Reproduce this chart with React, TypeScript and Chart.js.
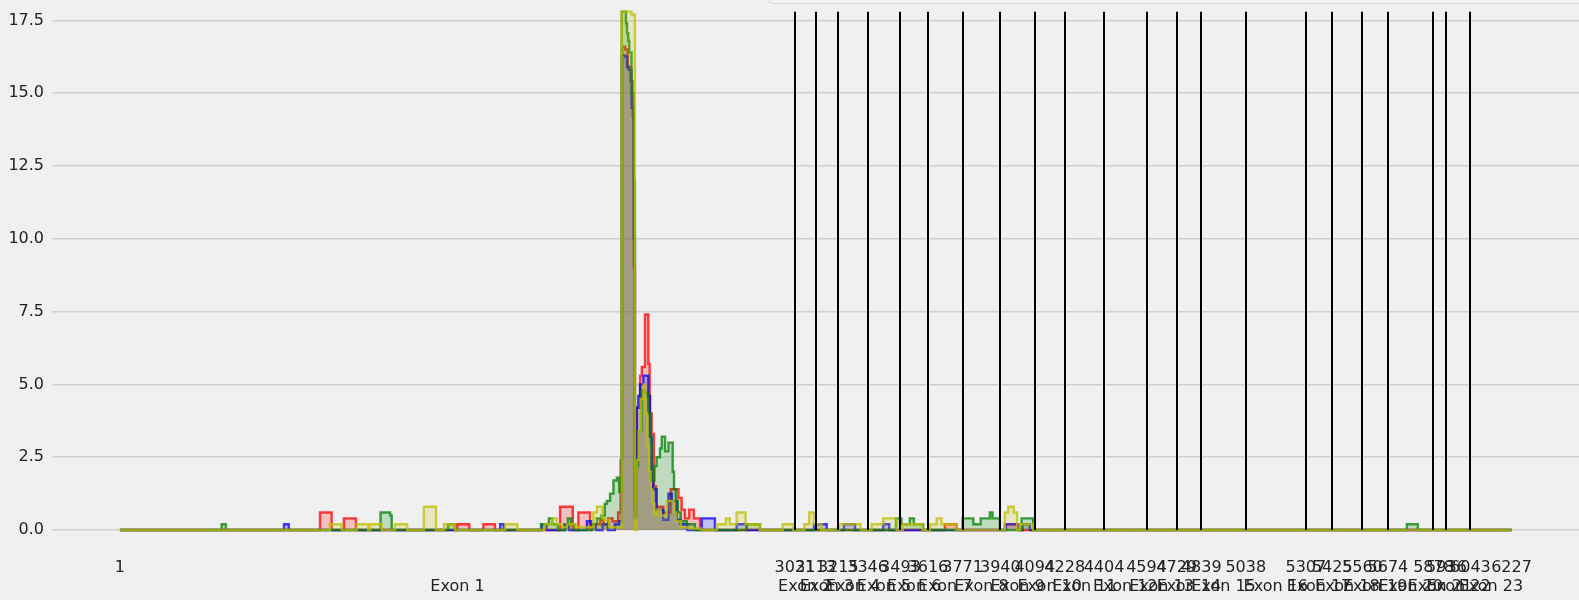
import React, { useEffect, useRef } from 'react';
import { Chart, registerables } from 'chart.js';

Chart.register(...registerables);

// Exon boundaries (genomic positions) and exon names
const exonBoundaries = [1, 3021, 3113, 3215, 3346, 3493, 3616, 3771, 3940, 4094, 4228, 4404, 4594, 4729, 4839, 5038, 5307, 5425, 5560, 5674, 5878, 5936, 6043, 6227];
const exonNames = ['Exon 1', 'Exon 2', 'Exon 3', 'Exon 4', 'Exon 5', 'Exon 6', 'Exon 7', 'Exon 8', 'Exon 9', 'Exon 10', 'Exon 11', 'Exon 12', 'Exon 13', 'Exon 14', 'Exon 15', 'Exon 16', 'Exon 17', 'Exon 18', 'Exon 19', 'Exon 20', 'Exon 21', 'Exon 22', 'Exon 23'];
const yTickValues = [0, 2.5, 5, 7.5, 10, 12.5, 15, 17.5];

// Step data: [position where value starts, value]
const redSteps: [number, number][] = [
  [1, 0], [896, 0.6], [948, 0], [1003, 0.4], [1057, 0], [1510, 0.2], [1564, 0], [1627, 0.2], [1679, 0],
  [1970, 0.8], [2027, 0], [2052, 0.6], [2104, 0], [2110, 0.2], [2150, 0.35], [2165, 0.2], [2185, 0.4], [2205, 0.3],
  [2230, 0.6], [2241, 2.4], [2248, 16.6], [2262, 16.5], [2273, 15.9], [2285, 15.4], [2295, 14.2], [2300, 9.0],
  [2305, 0.5], [2313, 4.2], [2328, 5.3], [2336, 5.6], [2350, 7.4], [2365, 5.7], [2371, 4.0], [2380, 3.3],
  [2390, 1.5], [2400, 0.8], [2432, 0.6], [2465, 1.4], [2500, 1.1], [2514, 0.7], [2529, 0.4], [2548, 0.7],
  [2569, 0.4], [2596, 0], [3692, 0.2], [3744, 0], [3960, 0.2], [4020, 0], [6227, 0],
];
const blueSteps: [number, number][] = [
  [1, 0], [735, 0.2], [756, 0], [1702, 0.2], [1719, 0], [1888, 0.2], [1910, 0], [1990, 0.2], [2010, 0],
  [2090, 0.3], [2110, 0.2], [2130, 0], [2160, 0.2], [2185, 0], [2215, 0.2], [2235, 0.3], [2246, 16.3],
  [2262, 16.25], [2270, 15.9], [2277, 15.8], [2290, 14.5], [2300, 10], [2305, 0.4], [2313, 4.2], [2320, 4.6],
  [2328, 5.0], [2343, 5.3], [2365, 4.6], [2373, 3.2], [2380, 1.7], [2387, 1.4], [2402, 0.7], [2432, 0.35],
  [2455, 1.25], [2470, 1.0], [2492, 0.35], [2507, 0.2], [2540, 0], [2604, 0.4], [2663, 0], [2760, 0.2],
  [2805, 0], [3106, 0.2], [3163, 0], [3240, 0.2], [3290, 0], [3416, 0.2], [3443, 0], [3965, 0.2], [4020, 0],
  [4040, 0.2], [4072, 0], [6227, 0],
];
const greenSteps: [number, number][] = [
  [1, 0], [456, 0.2], [475, 0], [1167, 0.6], [1210, 0.5], [1217, 0], [1469, 0.2], [1500, 0],
  [1885, 0.2], [1920, 0.4], [1935, 0.2], [1960, 0], [1995, 0.2], [2005, 0.4], [2020, 0.2], [2035, 0],
  [2115, 0.2], [2135, 0.4], [2155, 0.5], [2170, 0.9], [2180, 1.0], [2194, 1.25], [2209, 1.7], [2224, 1.8],
  [2235, 1.3], [2246, 17.8], [2265, 17.4], [2270, 17.06], [2275, 16.8], [2280, 16.4], [2290, 15.0], [2300, 12],
  [2305, 1.0], [2310, 2.2], [2320, 3.4], [2335, 4.8], [2350, 4.7], [2365, 4.0], [2373, 3.2], [2380, 1.7],
  [2392, 2.2], [2402, 2.5], [2417, 2.8], [2425, 3.2], [2440, 2.7], [2455, 3.0], [2474, 2.0], [2480, 1.4],
  [2488, 1.0], [2497, 0.6], [2510, 0.3], [2537, 0.2], [2574, 0], [2805, 0.2], [2865, 0], [3473, 0.4],
  [3498, 0.2], [3535, 0.4], [3553, 0.2], [3595, 0], [3771, 0.4], [3819, 0.2], [3852, 0.4], [3893, 0.6],
  [3905, 0.4], [3938, 0], [4035, 0.4], [4087, 0], [5759, 0.2], [5808, 0], [6227, 0],
];
const oliveSteps: [number, number][] = [
  [1, 0], [941, 0.2], [993, 0], [1060, 0.2], [1112, 0], [1120, 0.2], [1172, 0], [1231, 0.2], [1286, 0],
  [1361, 0.8], [1415, 0], [1451, 0.2], [1500, 0], [1724, 0.2], [1779, 0],
  [1900, 0.2], [1935, 0.4], [1955, 0.2], [1980, 0.1], [2000, 0.2], [2040, 0.1], [2119, 0.6], [2135, 0.8],
  [2160, 0.4], [2168, 0.35], [2190, 0.1], [2246, 17.8], [2290, 17.7], [2305, 0], [2313, 2.4], [2322, 3.4],
  [2331, 4.5], [2343, 5.0], [2352, 4.0], [2360, 2.9], [2368, 2.0], [2375, 1.4], [2383, 0.9], [2392, 0.5],
  [2405, 0.7], [2420, 0.5], [2447, 1.0], [2480, 0.6], [2490, 0.3], [2510, 0.1], [2545, 0.05], [2600, 0],
  [2671, 0.2], [2712, 0.4], [2730, 0.2], [2760, 0.6], [2800, 0.2], [2864, 0], [2966, 0.2], [3014, 0],
  [3063, 0.2], [3085, 0.6], [3106, 0.2], [3140, 0], [3219, 0.2], [3315, 0], [3364, 0.2], [3416, 0.4],
  [3476, 0], [3503, 0.2], [3592, 0], [3625, 0.2], [3655, 0.4], [3677, 0.2], [3744, 0], [3960, 0.6],
  [3975, 0.8], [4000, 0.6], [4015, 0], [4027, 0.2], [4087, 0], [6227, 0],
];

const seriesList = [
  { name: 'red', rgb: '255,0,0', steps: redSteps, order: 4 },
  { name: 'blue', rgb: '0,0,255', steps: blueSteps, order: 3 },
  { name: 'green', rgb: '0,128,0', steps: greenSteps, order: 2 },
  { name: 'olive', rgb: '191,191,0', steps: oliveSteps, order: 1 },
];

const X_MIN = -303;
const X_MAX = 6529;
const Y_MIN = -0.755;
const Y_MAX = 18.2;

function toPoints(steps: [number, number][]) {
  const pts: { x: number; y: number }[] = [];
  let prev = 0;
  for (const [x, y] of steps) {
    pts.push({ x, y: prev });
    pts.push({ x, y });
    prev = y;
  }
  return pts;
}

export default function App() {
  const ref = useRef<HTMLCanvasElement | null>(null);

  useEffect(() => {
    document.body.style.margin = '0';
    document.body.style.background = '#f0f0f0';
    const canvas = ref.current;
    if (!canvas) return;

    const labelMap = new Map<number, string[]>();
    exonBoundaries.forEach((b) => labelMap.set(b, [String(b)]));
    const mids: number[] = [];
    exonNames.forEach((n, i) => {
      const m = (exonBoundaries[i] + exonBoundaries[i + 1]) / 2;
      mids.push(m);
      labelMap.set(m, ['', n]);
    });
    const tickVals = [...exonBoundaries, ...mids].sort((a, b) => a - b);

    const vTop = Math.max(...seriesList.flatMap((s) => s.steps.map((p) => p[1])));

    const font = { family: '"DejaVu Sans", sans-serif', size: 16 };

    const bgPlugin = {
      id: 'bg',
      beforeDraw(chart: any) {
        const { ctx, width, height } = chart;
        ctx.save();
        ctx.fillStyle = '#f0f0f0';
        ctx.fillRect(0, 0, width, height);
        ctx.restore();
      },
    };

    const vlinePlugin = {
      id: 'vlines',
      afterDatasetsDraw(chart: any) {
        const { ctx } = chart;
        const xs = chart.scales.x;
        const ys = chart.scales.y;
        ctx.save();
        ctx.strokeStyle = '#000';
        ctx.lineWidth = 2;
        for (const b of exonBoundaries.slice(1, -1)) {
          const px = Math.round(xs.getPixelForValue(b));
          ctx.beginPath();
          ctx.moveTo(px, ys.getPixelForValue(0));
          ctx.lineTo(px, ys.getPixelForValue(vTop));
          ctx.stroke();
        }
        ctx.restore();
      },
    };

    const legendFramePlugin = {
      id: 'legendFrame',
      afterDraw(chart: any) {
        const { ctx, width } = chart;
        const left = width * 0.486;
        ctx.save();
        ctx.fillStyle = '#f0f0f0';
        ctx.strokeStyle = '#d9d9d9';
        ctx.lineWidth = 1;
        ctx.beginPath();
        ctx.roundRect(left + 0.5, -20, width, 23.5, 4);
        ctx.fill();
        ctx.stroke();
        ctx.restore();
      },
    };

    const chart = new Chart(canvas, {
      type: 'line',
      data: {
        datasets: seriesList.map((s) => ({
          label: s.name,
          data: toPoints(s.steps),
          borderColor: `rgba(${s.rgb},0.75)`,
          backgroundColor: `rgba(${s.rgb},0.2)`,
          fill: 'origin',
          borderWidth: 2.4,
          pointRadius: 0,
          tension: 0,
          order: s.order,
        })),
      },
      options: {
        animation: false,
        responsive: false,
        maintainAspectRatio: false,
        layout: { padding: 0 },
        plugins: { legend: { display: false }, tooltip: { enabled: false } },
        scales: {
          x: {
            type: 'linear',
            min: X_MIN,
            max: X_MAX,
            grid: { display: false, drawTicks: false },
            border: { display: false },
            afterBuildTicks: (scale: any) => {
              scale.ticks = tickVals.map((v) => ({ value: v }));
            },
            ticks: {
              autoSkip: false,
              maxRotation: 0,
              minRotation: 0,
              padding: 6,
              color: '#222',
              font,
              callback: (v: any) => labelMap.get(Number(v)) ?? '',
            },
            afterFit: (scale: any) => {
              scale.height = 48;
              scale.paddingLeft = 0;
              scale.paddingRight = 0;
            },
          },
          y: {
            type: 'linear',
            min: Y_MIN,
            max: Y_MAX,
            grid: { color: '#cfcfcf', lineWidth: 1.5, drawTicks: false },
            border: { display: false },
            afterBuildTicks: (scale: any) => {
              scale.ticks = yTickValues.map((v) => ({ value: v }));
            },
            ticks: {
              padding: 8,
              color: '#222',
              font,
              callback: (v: any) => Number(v).toFixed(1),
            },
            afterFit: (scale: any) => {
              scale.width = 52;
              scale.paddingTop = 0;
              scale.paddingBottom = 0;
            },
          },
        },
      },
      plugins: [bgPlugin, vlinePlugin, legendFramePlugin],
    } as any);

    return () => chart.destroy();
  }, []);

  return (
    <div style={{ position: 'absolute', left: 0, top: 0, width: 1579, height: 600, background: '#f0f0f0' }}>
      <canvas ref={ref} width={1579} height={600} style={{ display: 'block' }} />
    </div>
  );
}
